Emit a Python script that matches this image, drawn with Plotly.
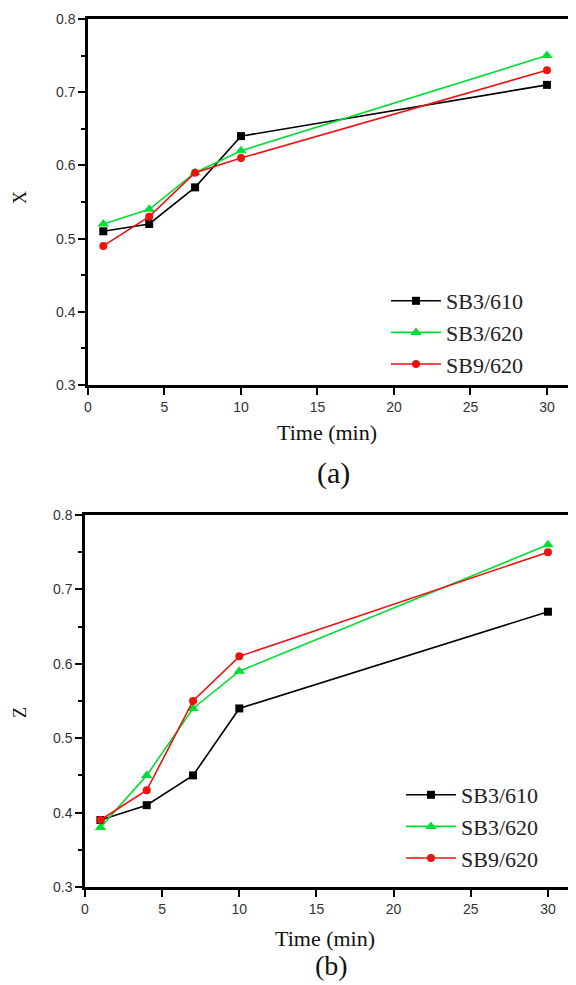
import plotly.graph_objects as go

time = [1, 4, 7, 10, 30]
series_names = ["SB3/610", "SB3/620", "SB9/620"]
x_sb3_610 = [0.51, 0.52, 0.57, 0.64, 0.71]
x_sb3_620 = [0.52, 0.54, 0.59, 0.62, 0.75]
x_sb9_620 = [0.49, 0.53, 0.59, 0.61, 0.73]
z_sb3_610 = [0.39, 0.41, 0.45, 0.54, 0.67]
z_sb3_620 = [0.38, 0.45, 0.54, 0.59, 0.76]
z_sb9_620 = [0.39, 0.43, 0.55, 0.61, 0.75]
x_ticks = [0, 5, 10, 15, 20, 25, 30]
y_ticks = [0.3, 0.4, 0.5, 0.6, 0.7, 0.8]

colors = ["#000000", "#00dd33", "#ee1111"]
symbols = ["square", "triangle-up", "circle"]
msizes = [8, 10, 8]

# page has an 8px body margin; figure is sized to fill the rest of the window
OFF = 8
W, H = 576 - OFF, 985 - OFF
def px(p):  # page x -> paper
    return (p - OFF) / W
def py(p):  # page y -> paper
    return 1 - (p - OFF) / H

fig = go.Figure()

def add(vals, i, xa, ya, leg):
    fig.add_trace(go.Scatter(
        x=time, y=vals, name=series_names[i], mode="lines+markers",
        line=dict(color=colors[i], width=1.6),
        marker=dict(symbol=symbols[i], size=msizes[i], color=colors[i]),
        xaxis=xa, yaxis=ya, legend=leg))

for i, v in enumerate([x_sb3_610, x_sb3_620, x_sb9_620]):
    add(v, i, "x", "y", "legend")
for i, v in enumerate([z_sb3_610, z_sb3_620, z_sb9_620]):
    add(v, i, "x2", "y2", "legend2")

tickfont = dict(family="Liberation Sans", size=14, color="#333")
def xax(dom, rng, anchor):
    return dict(domain=dom, range=rng, anchor=anchor, tickvals=x_ticks,
                showline=True, linecolor="black", linewidth=2.5, mirror=True,
                ticks="outside", ticklen=7, tickwidth=2, tickcolor="black",
                tickfont=tickfont, showgrid=False, zeroline=False, automargin=False)
def yax(dom, anchor):
    return dict(domain=dom, range=[0.3, 0.8], anchor=anchor, tickvals=y_ticks,
                showline=True, linecolor="black", linewidth=2.5,
                ticks="outside", ticklen=7, tickwidth=2, tickcolor="black",
                minor=dict(dtick=0.05, ticks="outside", ticklen=4, tickwidth=2, tickcolor="black"),
                tickformat=".1f", tickfont=tickfont, showgrid=False, zeroline=False,
                automargin=False)

legfont = dict(family="Liberation Serif", size=22, color="#222")
fig.update_layout(
    width=W, height=H, margin=dict(l=0, r=0, t=0, b=0, autoexpand=False),
    plot_bgcolor="white", paper_bgcolor="white",
    xaxis=xax([px(88), 1], [0, 31.9], "y"),
    yaxis=yax([py(385), py(19)], "x"),
    xaxis2=xax([px(85), 1], [0, 31.82], "y2"),
    yaxis2=yax([py(887), py(515)], "x2"),
    legend=dict(x=px(386), y=py(280), xanchor="left", yanchor="top",
                font=legfont, bgcolor="rgba(0,0,0,0)", tracegroupgap=0, itemwidth=50),
    legend2=dict(x=px(401), y=py(774), xanchor="left", yanchor="top",
                 font=legfont, bgcolor="rgba(0,0,0,0)", tracegroupgap=0, itemwidth=50),
)

serif = "Liberation Serif"
def ann(text, x, y, size, angle=0):
    fig.add_annotation(text=text, x=px(x), y=py(y), xref="paper", yref="paper",
                       showarrow=False, font=dict(family=serif, size=size, color="#111"),
                       textangle=angle, xanchor="center", yanchor="middle")

ann("Time (min)", 327, 432, 22)
ann("(a)", 333, 473, 30)
ann("X", 20, 198, 18, -90)
ann("Time (min)", 325, 938, 22)
ann("(b)", 331, 965, 28)
ann("Z", 20, 713, 18, -90)

fig.write_html("out.html")
